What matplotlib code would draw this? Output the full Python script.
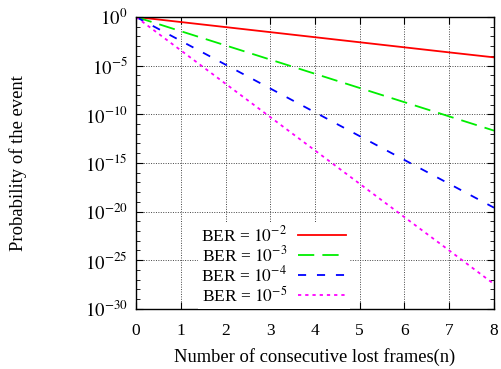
import matplotlib
matplotlib.use("Agg")
import matplotlib.pyplot as plt
import numpy as np
from matplotlib.ticker import FixedLocator

plt.rcParams['font.family'] = ['Liberation Serif', 'DejaVu Serif']
plt.rcParams['mathtext.fontset'] = 'stix'

n = [0, 1, 2, 3, 4, 5, 6, 7, 8]
# log10 of probability
log_p_1e2 = [0, -0.52, -1.04, -1.56, -2.08, -2.60, -3.12, -3.64, -4.15]
log_p_1e3 = [0, -1.46, -2.92, -4.38, -5.84, -7.30, -8.76, -10.22, -11.68]
log_p_1e4 = [0, -2.45, -4.90, -7.35, -9.80, -12.25, -14.70, -17.15, -19.60]
log_p_1e5 = [0, -3.43, -6.86, -10.29, -13.72, -17.15, -20.58, -24.00, -27.45]

labels = [r'BER = $10^{-2}$', r'BER = $10^{-3}$', r'BER = $10^{-4}$', r'BER = $10^{-5}$']
xticks = [0, 1, 2, 3, 4, 5, 6, 7, 8]
yticks_exp = [0, -5, -10, -15, -20, -25, -30]
ytick_labels = [r'$10^{0}$', r'$10^{-5}$', r'$10^{-10}$', r'$10^{-15}$',
                r'$10^{-20}$', r'$10^{-25}$', r'$10^{-30}$']

fig = plt.figure(figsize=(5.02, 3.69), dpi=100)
ax = fig.add_axes([0.271, 0.163, 0.713, 0.791])

series = [log_p_1e2, log_p_1e3, log_p_1e4, log_p_1e5]
colors = ['#ff0000', '#00ee00', '#0000ff', '#ff00ff']
styles = ['-', (0, (9, 4.5)), (0, (4.5, 6)), (0, (1.8, 2.2))]
for s, c, ls, lab in zip(series, colors, styles, labels):
    ax.plot(n, [10.0 ** v for v in s], color=c, linestyle=ls, lw=1.3, label=lab)

ax.set_yscale('log')
ax.set_xlim(0, 8)
ax.set_ylim(1e-30, 1e0)
ax.set_xticks(xticks)
ax.set_xticklabels([str(v) for v in xticks], fontsize=12.5)
ax.yaxis.set_major_locator(FixedLocator([10.0 ** e for e in yticks_exp]))
ax.set_yticks([10.0 ** e for e in yticks_exp])
ax.set_yticklabels(ytick_labels, fontsize=13.5)
ax.yaxis.set_minor_locator(FixedLocator([10.0 ** e for e in range(-30, 1)]))
ax.yaxis.set_minor_formatter(matplotlib.ticker.NullFormatter())

ax.tick_params(axis='both', which='both', direction='in', top=True, right=True)
ax.tick_params(axis='both', which='major', length=5, width=0.8)
ax.tick_params(axis='y', which='minor', length=3, width=0.6)
ax.tick_params(axis='x', which='major', pad=10)
ax.tick_params(axis='y', which='major', pad=6)
ax.grid(True, which='major', linestyle=(0, (1, 1.5)), color='#444444', linewidth=0.7)
for sp in ax.spines.values():
    sp.set_linewidth(1.0)

ax.set_xlabel('Number of consecutive lost frames(n)', fontsize=13.3, labelpad=7)
ax.set_ylabel('Probability of the event', fontsize=13.4)
ax.yaxis.set_label_coords(-0.305, 0.5)

leg = ax.legend(loc='lower left', bbox_to_anchor=(0.172, 0.0), markerfirst=False,
                frameon=True, fontsize=12.5, handlelength=2.8, labelspacing=0.0,
                borderpad=0.2, handletextpad=0.6, borderaxespad=0.0)
leg.get_frame().set_facecolor('white')
leg.get_frame().set_edgecolor('none')
leg.get_frame().set_alpha(1.0)
leg.get_frame().set_boxstyle('square', pad=0)

fig.savefig('out.png', dpi=100)
